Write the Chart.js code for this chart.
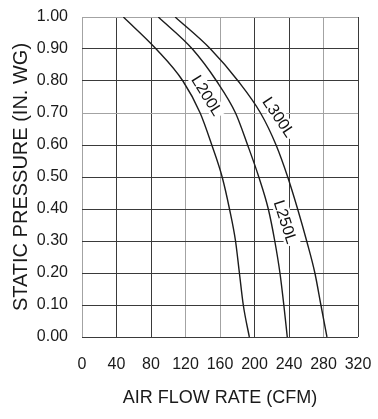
<!DOCTYPE html>
<html>
<head>
<meta charset="utf-8">
<script src="https://cdn.jsdelivr.net/npm/chart.js@4.4.0/dist/chart.umd.min.js"></script>
<style>
  body { margin: 0; background: #fff; }
  canvas { display: block; }
</style>
</head>
<body>
<canvas id="fanChart" width="378" height="419"></canvas>
<script>
// static pressure points (in. wg), shared by all curves
const pressure = [1.0, 0.9, 0.8, 0.7, 0.6, 0.5, 0.4, 0.3, 0.2, 0.1, 0.0];
// air flow (cfm) at those pressures
const flowL200L = [48, 86, 117, 137, 150.5, 162.5, 171, 178, 182.5, 187, 194];
const flowL250L = [88.5, 128, 156, 178, 192, 205, 216, 223.5, 229.5, 234, 238];
const flowL300L = [108, 149, 181, 207, 225, 238.5, 250, 260.5, 270, 277, 284];

// curve labels: text, where they sit (cfm, in. wg) and tilt in degrees
const curveLabels = ["L200L", "L250L", "L300L"];
const labelFlow = [145, 236, 228];
const labelPressure = [0.755, 0.36, 0.688];
const labelAngle = [58, 72, 56];

const dark = "#3a3a3a";
const light = "#a3a3a3";
// a few grid lines in the scan come out lighter
const xGridShade = [light, dark, dark, light, light, dark, dark, light, dark];
const yGridShade = [dark, dark, dark, dark, dark, dark, dark, light, dark, dark, light];

function toPoints(flow) {
    return flow.map((f, i) => ({ x: f, y: pressure[i] }));
}

function curve(label, flow) {
    return {
        label: label,
        data: toPoints(flow),
        borderColor: "#1c1c1c",
        borderWidth: 1.4,
        pointRadius: 0,
        fill: false,
        cubicInterpolationMode: "monotone",
    };
}

// rotated labels with a white box, drawn under the curves
const curveLabelPlugin = {
    id: "curveLabels",
    beforeDatasetsDraw(chart) {
        const { ctx, scales } = chart;
        ctx.save();
        ctx.font = "16px 'Liberation Sans', Arial, sans-serif";
        ctx.textAlign = "center";
        ctx.textBaseline = "middle";
        curveLabels.forEach((text, i) => {
            const px = scales.x.getPixelForValue(labelFlow[i]);
            const py = scales.y.getPixelForValue(labelPressure[i]);
            const w = ctx.measureText(text).width;
            ctx.save();
            ctx.translate(px, py);
            ctx.rotate((labelAngle[i] * Math.PI) / 180);
            ctx.fillStyle = "#fff";
            ctx.fillRect(-w / 2 - 2, -8, w + 4, 16);
            ctx.fillStyle = "#111";
            ctx.fillText(text, 0, 1);
            ctx.restore();
        });
        ctx.restore();
    },
};

// fixed box sizes so the plot sits where it does in the drawing
function fixBox(size) {
    return function (scale) {
        if (scale.isHorizontal()) scale.height = size;
        else scale.width = size;
        scale.paddingLeft = 0;
        scale.paddingRight = 0;
        scale.paddingTop = 0;
        scale.paddingBottom = 0;
    };
}

new Chart(document.getElementById("fanChart"), {
    type: "line",
    data: {
        datasets: [
            curve("L200L", flowL200L),
            curve("L250L", flowL250L),
            curve("L300L", flowL300L),
        ],
    },
    options: {
        responsive: false,
        animation: false,
        layout: { padding: { top: 17, right: 20, left: 0, bottom: 0 } },
        plugins: {
            legend: { display: false },
            tooltip: { enabled: false },
        },
        scales: {
            x: {
                type: "linear",
                min: 0,
                max: 320,
                border: { display: false },
                grid: {
                    drawTicks: false,
                    lineWidth: 1,
                    color: (c) => xGridShade[c.index] || dark,
                },
                ticks: {
                    stepSize: 40,
                    padding: 18,
                    color: "#1a1a1a",
                    font: { family: "'Liberation Sans', Arial, sans-serif", size: 16 },
                    maxRotation: 0,
                },
                title: {
                    display: true,
                    text: "AIR FLOW RATE (CFM)",
                    color: "#1a1a1a",
                    font: { family: "'Liberation Sans', Arial, sans-serif", size: 18 },
                    padding: { top: 0, bottom: 10 },
                },
                afterFit: fixBox(82),
            },
            y: {
                type: "linear",
                min: 0,
                max: 1,
                border: { display: false },
                grid: {
                    drawTicks: false,
                    lineWidth: 1,
                    color: (c) => yGridShade[c.index] || dark,
                },
                ticks: {
                    stepSize: 0.1,
                    padding: 14,
                    color: "#1a1a1a",
                    font: { family: "'Liberation Sans', Arial, sans-serif", size: 16 },
                    callback: (v) => Number(v).toFixed(2),
                },
                title: {
                    display: true,
                    text: "STATIC PRESSURE (IN. WG)",
                    color: "#1a1a1a",
                    font: { family: "'Liberation Sans', Arial, sans-serif", size: 20 },
                    padding: { top: 9, bottom: 0 },
                },
                afterFit: fixBox(82),
            },
        },
    },
    plugins: [curveLabelPlugin],
});
</script>
</body>
</html>
